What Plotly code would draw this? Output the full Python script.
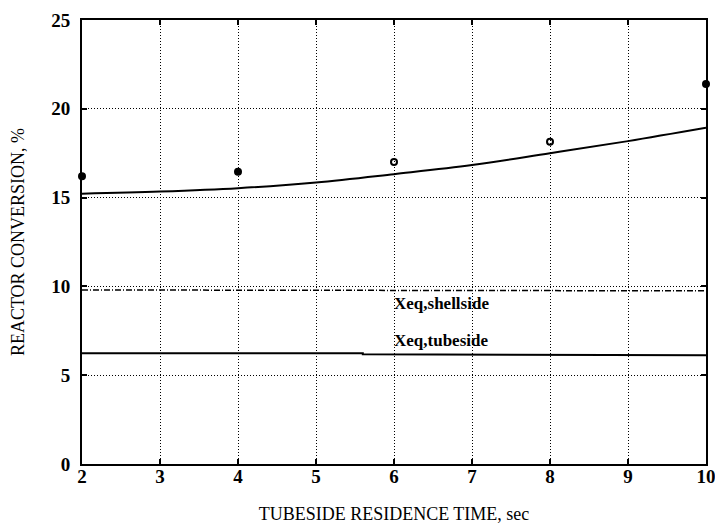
import plotly.graph_objects as go

# Data
exp_time = [2, 4, 6, 8, 10]
exp_conv = [16.2, 16.45, 17.0, 18.15, 21.4]
exp_symbols = ["circle", "circle", "circle-open", "circle-open", "circle"]

model_time = [2, 3, 4, 5, 6, 7, 8, 9, 10]
model_conv = [15.22, 15.34, 15.53, 15.85, 16.32, 16.83, 17.5, 18.18, 18.93]

shell_time = [2, 10]
shell_eq = [9.8, 9.75]

tube_time = [2, 5.6, 5.6, 10]
tube_eq = [6.24, 6.24, 6.18, 6.12]

labels = ["Xeq,shellside", "Xeq,tubeside"]
label_x = [6, 6]
label_y = [9.05, 6.97]

x_ticks = [2, 3, 4, 5, 6, 7, 8, 9, 10]
y_ticks = [0, 5, 10, 15, 20, 25]

FONT = "Liberation Serif"

fig = go.Figure()
fig.add_trace(go.Scatter(x=model_time, y=model_conv, mode="lines", line=dict(color="black", width=2, shape="spline"), showlegend=False))
fig.add_trace(go.Scatter(x=shell_time, y=shell_eq, mode="lines", line=dict(color="black", width=1.5, dash="6px,2px,1px,2px"), showlegend=False))
fig.add_trace(go.Scatter(x=tube_time, y=tube_eq, mode="lines", line=dict(color="black", width=2), showlegend=False))
fig.add_trace(go.Scatter(x=exp_time, y=exp_conv, mode="markers",
                         marker=dict(color="black", size=6, symbol=exp_symbols, line=dict(color="black", width=2)),
                         showlegend=False, cliponaxis=False))

for t, xx, yy in zip(labels, label_x, label_y):
    fig.add_annotation(x=xx, y=yy, text=t, showarrow=False, xanchor="left", yanchor="middle",
                       font=dict(family=FONT, size=17, color="black", weight="bold"), xshift=-2)

axis_common = dict(showline=True, linecolor="black", linewidth=2, mirror="ticks",
                   ticks="inside", ticklen=5, tickcolor="black", tickwidth=1.5,
                   showgrid=True, gridcolor="black", griddash="1px,2px", gridwidth=1,
                   zeroline=False, automargin=False, ticklabeloverflow="allow",
                   tickfont=dict(family=FONT, size=19, color="black", weight="bold"))

fig.update_xaxes(range=[2, 10], tickvals=x_ticks, ticklabelstandoff=-6, **axis_common,
                 title=dict(text="TUBESIDE RESIDENCE TIME, sec", font=dict(family=FONT, size=18, color="black"), standoff=24))
fig.update_yaxes(range=[0, 25], tickvals=y_ticks, ticklabelstandoff=6, **axis_common,
                 title=dict(text="REACTOR CONVERSION, %", font=dict(family=FONT, size=18, color="black"), standoff=22))

fig.update_layout(width=715, height=524, margin=dict(l=82, r=9, t=20, b=60),
                  plot_bgcolor="white", paper_bgcolor="white")

fig.write_html("out.html")
